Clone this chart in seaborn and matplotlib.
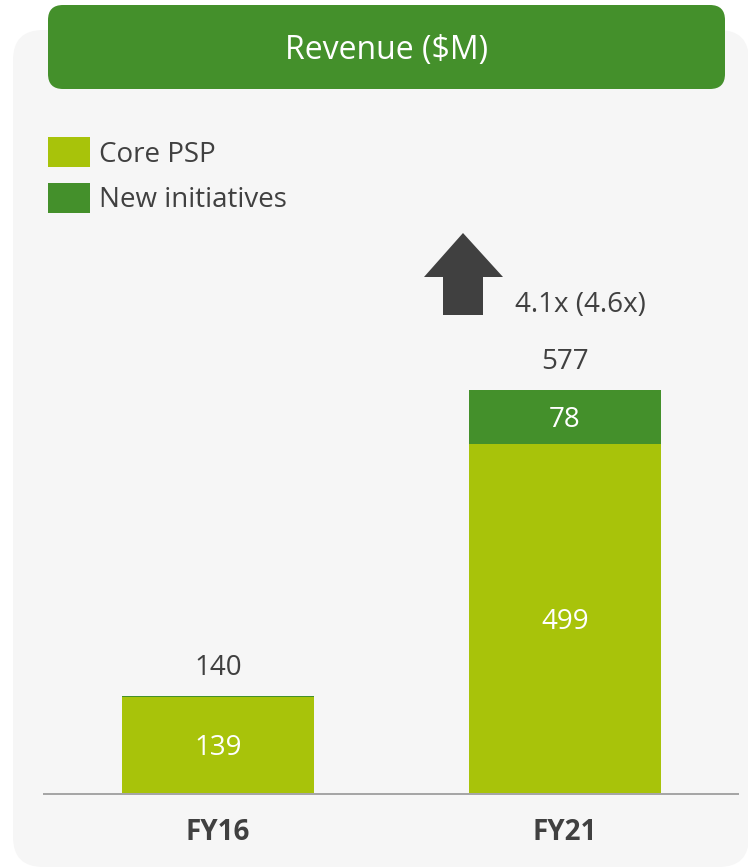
import matplotlib
matplotlib.use("Agg")
import matplotlib.pyplot as plt
from matplotlib.patches import FancyBboxPatch, Polygon, Rectangle
import numpy as np
import pandas as pd
import seaborn as sns

# --- data ---------------------------------------------------------------
years = ["FY16", "FY21"]
core_psp = [139, 499]
new_initiatives = [1, 78]
series_names = ["Core PSP", "New initiatives"]
title_text = "Revenue ($M)"
growth_text = "4.1x (4.6x)"

# --- styling ------------------------------------------------------------
LIGHT_GREEN = "#a8c30a"
DARK_GREEN = "#44902b"
PANEL = "#f6f6f6"
TEXT = "#404040"
AXIS_GREY = "#a6a6a6"
ARROW = "#404040"

sns.set_style("white")
plt.rcParams["font.family"] = ["Open Sans", "DejaVu Sans"]

W, H = 748, 868
DPI = 100
fig = plt.figure(figsize=(W / DPI, H / DPI), dpi=DPI)
fig.patch.set_facecolor("white")

# background layer in pixel coordinates (origin top-left)
bg = fig.add_axes([0, 0, 1, 1], zorder=0)
bg.set_xlim(0, W)
bg.set_ylim(H, 0)
bg.axis("off")

# light rounded panel
bg.add_patch(FancyBboxPatch((13, 30), 736, H - 30 - 1,
                            boxstyle="round,pad=0,rounding_size=30",
                            facecolor=PANEL, edgecolor="none"))
# green header bar
bg.add_patch(FancyBboxPatch((48, 5), 677, 84,
                            boxstyle="round,pad=0,rounding_size=15",
                            facecolor=DARK_GREEN, edgecolor="none"))
bg.text(387, 59, title_text, color="white", fontsize=23,
        ha="center", va="baseline")

# legend
legend_colors = [LIGHT_GREEN, DARK_GREEN]
legend_rows = [(137, 162), (183, 207)]
for name, col, (top, base) in zip(series_names, legend_colors, legend_rows):
    bg.add_patch(Rectangle((48, top), 42, 30, facecolor=col, edgecolor="none"))
    bg.text(99, base, name, color=TEXT, fontsize=20, ha="left", va="baseline")

# growth arrow
bg.add_patch(Polygon([(463, 233), (503, 277), (483, 277), (483, 315),
                      (443, 315), (443, 277), (424, 277)],
                     closed=True, facecolor=ARROW, edgecolor="none"))
bg.text(515, 312, growth_text, color=TEXT, fontsize=20,
        ha="left", va="baseline")

# --- bar chart ----------------------------------------------------------
AX_L, AX_R, AX_B, AX_T = 44, 738, 794, 100
PX_PER_UNIT = 0.701
ax = fig.add_axes([AX_L / W, (H - AX_B) / H, (AX_R - AX_L) / W,
                   (AX_B - AX_T) / H], zorder=1)
ax.patch.set_alpha(0)

df = pd.DataFrame({"year": years, "core": core_psp, "new": new_initiatives})
df["total"] = df["core"] + df["new"]

bar_w = 192 / 347
sns.barplot(data=df, x="year", y="total", color=DARK_GREEN, saturation=1,
            width=bar_w, linewidth=0, ax=ax)
sns.barplot(data=df, x="year", y="core", color=LIGHT_GREEN, saturation=1,
            width=bar_w, linewidth=0, ax=ax)

ax.set_xlim(-(218 - AX_L) / 347, 1 + (AX_R - 565) / 347)
ax.set_ylim(0, (AX_B - AX_T) / PX_PER_UNIT)

cap_pt = 0.714 * 20
for i, row in df.iterrows():
    # total above the bar
    ax.annotate(f"{row['total']:.0f}", xy=(i, row["total"]),
                xytext=(0, 15), textcoords="offset points",
                ha="center", va="baseline", color=TEXT, fontsize=20)
    # segment values inside the bar
    ax.annotate(f"{row['core']:.0f}", xy=(i, row["core"] / 2),
                xytext=(0, -cap_pt / 2), textcoords="offset points",
                ha="center", va="baseline", color="white", fontsize=20)
    if row["new"] * PX_PER_UNIT > 30:
        ax.annotate(f"{row['new']:.0f}", xy=(i, row["core"] + row["new"] / 2),
                    xytext=(0, -cap_pt / 2), textcoords="offset points",
                    ha="center", va="baseline", color="white", fontsize=20)

sns.despine(ax=ax, left=True, top=True, right=True)
ax.spines["bottom"].set_color(AXIS_GREY)
ax.spines["bottom"].set_linewidth(2 * 72 / DPI)
ax.set_yticks([])
ax.set_xlabel("")
ax.set_ylabel("")
ax.tick_params(axis="x", length=0, pad=17, labelsize=20, labelcolor=TEXT)
for lbl in ax.get_xticklabels():
    lbl.set_fontweight("bold")

fig.savefig("out.png", dpi=DPI, facecolor="white")
